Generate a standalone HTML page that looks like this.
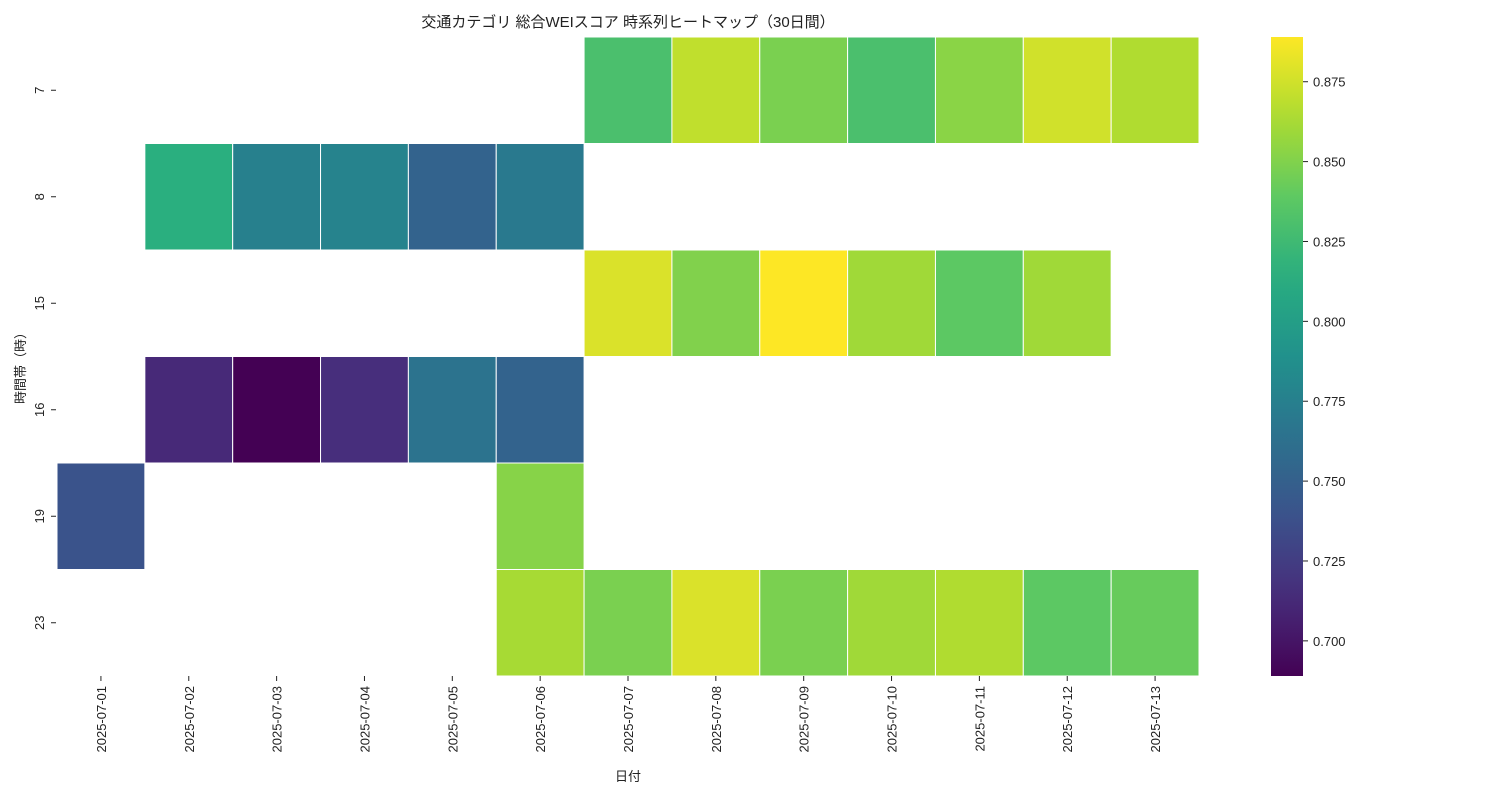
<!DOCTYPE html>
<html><head><meta charset="utf-8"><style>
body{margin:0;background:#fff;}
svg text{font-family:"Liberation Sans","Noto Sans CJK JP",sans-serif;fill:#222;}
</style></head><body>
<svg id="chart" width="1500" height="800" xmlns="http://www.w3.org/2000/svg">
<text x="628" y="27" text-anchor="middle" font-size="15">交通カテゴリ 総合WEIスコア 時系列ヒートマップ（30日間）</text>
<g id="cells"></g>
<g id="xaxis"></g>
<g id="yaxis"></g>
<text x="628" y="781" text-anchor="middle" font-size="13">日付</text>
<text transform="translate(25,365) rotate(-90)" text-anchor="middle" font-size="13">時間帯（時）</text>
<defs><linearGradient id="vir" x1="0" y1="1" x2="0" y2="0"></linearGradient></defs>
<rect x="1271" y="37" width="32" height="639" fill="url(#vir)"/>
<g id="cbar"></g>
</svg>
<script>
const dates=["2025-07-01","2025-07-02","2025-07-03","2025-07-04","2025-07-05","2025-07-06","2025-07-07","2025-07-08","2025-07-09","2025-07-10","2025-07-11","2025-07-12","2025-07-13"];
const hours=["7","8","15","16","19","23"];
const row7=[null,null,null,null,null,null,0.830,0.870,0.848,0.830,0.853,0.875,0.865];
const row8=[null,0.815,0.775,0.778,0.752,0.770,null,null,null,null,null,null,null];
const row15=[null,null,null,null,null,null,0.878,0.850,0.889,0.860,0.838,0.860,null];
const row16=[null,0.712,0.689,0.715,0.765,0.752,null,null,null,null,null,null,null];
const row19=[0.740,null,null,null,null,0.852,null,null,null,null,null,null,null];
const row23=[null,null,null,null,null,0.862,0.848,0.878,0.848,0.860,0.865,0.838,0.842];
const rows=[row7,row8,row15,row16,row19,row23];
const cbarTicks=[0.700,0.725,0.750,0.775,0.800,0.825,0.850,0.875];
const vmin=0.689,vmax=0.889;
const X0=57,X1=1199,Y0=37,Y1=676;
const cw=(X1-X0)/dates.length,ch=(Y1-Y0)/hours.length;
const stops=["#440154","#472d7b","#3b528b","#2c728e","#21918c","#28ae80","#5ec962","#addc30","#fde725"];
function hex(h){return [1,3,5].map(i=>parseInt(h.substr(i,2),16));}
function vir(t){t=Math.max(0,Math.min(1,t));const p=t*8,i=Math.min(7,Math.floor(p)),f=p-i;const a=hex(stops[i]),b=hex(stops[i+1]);return "rgb("+a.map((v,k)=>Math.round(v+(b[k]-v)*f)).join(",")+")";}
const NS="http://www.w3.org/2000/svg";
function el(t,a,p){const e=document.createElementNS(NS,t);for(const k in a)e.setAttribute(k,a[k]);p.appendChild(e);return e;}
const xs=i=>X0+i*cw, ys=j=>Y0+j*ch;
const cy=v=>Y1-(v-vmin)/(vmax-vmin)*(Y1-Y0);
const cells=document.getElementById('cells');
rows.forEach((r,j)=>r.forEach((v,i)=>{if(v==null)return;
 const c=el('rect',{x:xs(i),y:ys(j),width:cw,height:ch,fill:vir((v-vmin)/(vmax-vmin)),stroke:"#fff","stroke-width":1},cells);
 
 }));
const xa=document.getElementById('xaxis');
dates.forEach((d,i)=>{const x=xs(i)+cw/2;
 const tk=el('line',{x1:x,x2:x,y1:Y1,y2:Y1+5,stroke:"#222"},xa);
 
 
 const t=el('text',{transform:`translate(${x+5},${Y1+10}) rotate(-90)`,"text-anchor":"end","font-size":13},xa);
 t.textContent=d;
 
 });
const ya=document.getElementById('yaxis');
hours.forEach((h,j)=>{const y=ys(j)+ch/2;
 const tk=el('line',{x1:X0-6,x2:X0-1,y1:y,y2:y,stroke:"#222"},ya);
 
 
 const t=el('text',{transform:`translate(${44},${y}) rotate(-90)`,"text-anchor":"middle","font-size":13},ya);
 t.textContent=h;
 
 });
const g=document.getElementById('vir');
for(let k=0;k<=20;k++){el('stop',{offset:k/20,"stop-color":vir(k/20)},g);}
const cb=document.getElementById('cbar');
cbarTicks.forEach(v=>{const y=cy(v);
 const tk=el('line',{x1:1303,x2:1308,y1:y,y2:y,stroke:"#222"},cb);
 
 
 const t=el('text',{x:1313,y:y+5,"font-size":13},cb);
 t.textContent=v.toFixed(3);
 
 });
</script>
</body></html>
